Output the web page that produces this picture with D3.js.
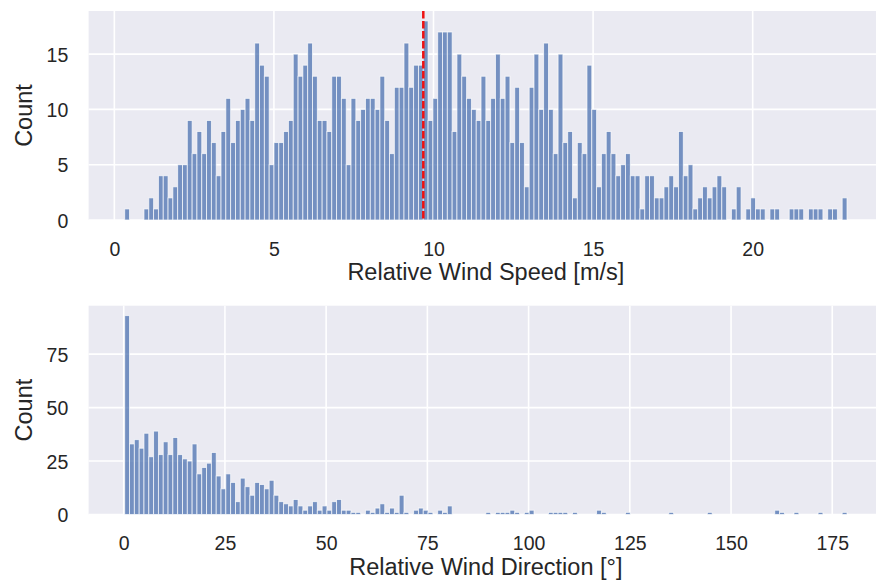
<!DOCTYPE html>
<html>
<head>
<meta charset="utf-8">
<script src="https://cdn.jsdelivr.net/npm/d3@7"></script>
<style>
  body { margin: 0; background: #fff; }
  svg { display: block; }
  .tick text { font-family: "Liberation Sans", Arial, sans-serif; font-size: 19.5px; fill: #262626; }
  .axis-label { font-family: "Liberation Sans", Arial, sans-serif; font-size: 23.5px; fill: #262626; }
</style>
</head>
<body>
<div id="chart"></div>
<script>
// Histogram counts (150 bins each)
const speedCounts = [
  1, 0, 0, 0, 1, 2, 1, 4, 4, 2, 3, 5, 5, 9, 6, 8, 6, 9, 7, 4,
  8, 11, 7, 9, 10, 11, 9, 16, 14, 13, 5, 7, 7, 8, 9, 15, 13, 14, 16, 13,
  9, 9, 8, 13, 13, 11, 5, 11, 9, 10, 11, 11, 10, 13, 9, 6, 12, 12, 16, 12,
  14, 14, 18, 9, 11, 17, 17, 17, 8, 15, 13, 11, 10, 9, 13, 9, 11, 15, 11, 13,
  7, 12, 7, 3, 12, 15, 10, 16, 10, 6, 15, 7, 8, 2, 7, 6, 14, 10, 3, 6,
  8, 6, 4, 5, 6, 4, 4, 1, 4, 4, 2, 2, 3, 4, 3, 8, 4, 5, 1, 2,
  3, 2, 3, 4, 3, 0, 1, 3, 0, 1, 2, 1, 1, 0, 1, 1, 0, 0, 1, 1,
  1, 0, 1, 1, 1, 0, 1, 1, 0, 2
];
const speedRange = [0.325, 22.954];
const speedMean = 9.68;

const directionCounts = [
  93, 33, 35, 31, 38, 27, 39, 28, 34, 28, 36, 28, 26, 25, 33, 19, 22, 24, 29, 18,
  12, 19, 15, 6, 17, 13, 9, 15, 14, 12, 16, 9, 6, 5, 4, 7, 4, 2, 4, 6,
  2, 4, 2, 6, 7, 2, 2, 1, 1, 0, 2, 1, 3, 5, 1, 3, 1, 9, 1, 0,
  2, 3, 2, 1, 0, 2, 1, 4, 0, 0, 0, 0, 0, 0, 0, 1, 0, 1, 1, 1,
  2, 1, 0, 1, 2, 0, 0, 0, 1, 1, 1, 1, 0, 1, 0, 0, 0, 0, 2, 1,
  0, 0, 0, 0, 1, 0, 0, 0, 0, 0, 0, 0, 0, 1, 0, 0, 0, 0, 0, 0,
  0, 1, 0, 0, 0, 0, 0, 0, 0, 0, 0, 0, 0, 0, 0, 2, 1, 0, 0, 1,
  0, 0, 0, 0, 1, 0, 0, 0, 0, 1
];
const directionRange = [0.247, 178.64];

const speedTicksX = [0, 5, 10, 15, 20];
const speedTicksY = [0, 5, 10, 15];
const directionTicksX = [0, 25, 50, 75, 100, 125, 150, 175];
const directionTicksY = [0, 25, 50, 75];

const W = 876, H = 588;
const svg = d3.select("#chart").append("svg")
    .attr("width", W)
    .attr("height", H);

// axes box in pixels (right edge runs past the figure, as in the original)
const axLeft = 88.6, axWidth = 794.5;

function drawHist(opts) {
    const {counts, range, top, bottom, ticksX, ticksY, xLabel, mean} = opts;
    const n = counts.length;
    const span = range[1] - range[0];
    const binW = span / n;

    const x = d3.scaleLinear()
        .domain([range[0] - 0.05 * span, range[1] + 0.05 * span])
        .range([axLeft, axLeft + axWidth]);
    const yMax = d3.max(counts) * 1.05;
    const y = d3.scaleLinear()
        .domain([0, yMax])
        .range([bottom, top]);

    const g = svg.append("g");

    // background
    g.append("rect")
        .attr("x", axLeft).attr("y", top)
        .attr("width", axWidth).attr("height", bottom - top)
        .attr("fill", "#EAEAF2");

    // grid
    g.selectAll(".gx").data(ticksX).enter().append("line")
        .attr("x1", d => x(d)).attr("x2", d => x(d))
        .attr("y1", top).attr("y2", bottom)
        .attr("stroke", "#fff").attr("stroke-width", 1.6);
    g.selectAll(".gy").data(ticksY).enter().append("line")
        .attr("x1", axLeft).attr("x2", axLeft + axWidth)
        .attr("y1", d => y(d)).attr("y2", d => y(d))
        .attr("stroke", "#fff").attr("stroke-width", 1.6);

    // bars
    const bins = counts.map((c, i) => ({x0: range[0] + i * binW, x1: range[0] + (i + 1) * binW, c}));
    g.selectAll(".bar").data(bins.filter(d => d.c > 0)).enter().append("rect")
        .attr("x", d => x(d.x0))
        .attr("width", d => x(d.x1) - x(d.x0))
        .attr("y", d => y(d.c))
        .attr("height", d => y(0) - y(d.c))
        .attr("fill", "#4C72B0")
        .attr("fill-opacity", 0.75)
        .attr("stroke", "#fff")
        .attr("stroke-opacity", 0.75)
        .attr("stroke-width", 0.9);

    if (mean !== undefined) {
        g.append("line")
            .attr("x1", x(mean)).attr("x2", x(mean))
            .attr("y1", top).attr("y2", bottom)
            .attr("stroke", "#ee1111")
            .attr("stroke-width", 2.5)
            .attr("stroke-dasharray", "7.4,2.6");
    }

    // axes
    const ax = g.append("g")
        .attr("transform", `translate(0,${bottom})`)
        .call(d3.axisBottom(x).tickValues(ticksX).tickSize(0).tickPadding(21.7));
    ax.select(".domain").remove();

    const ay = g.append("g")
        .attr("transform", `translate(${axLeft},0)`)
        .call(d3.axisLeft(y).tickValues(ticksY).tickSize(0).tickPadding(20.3));
    ay.select(".domain").remove();
    ay.selectAll("text").attr("dy", "0.36em");

    g.append("text")
        .attr("class", "axis-label")
        .attr("x", axLeft + axWidth / 2)
        .attr("y", bottom + 60)
        .attr("text-anchor", "middle")
        .text(xLabel);

    g.append("text")
        .attr("class", "axis-label")
        .attr("transform", `translate(31.6,${(top + bottom) / 2}) rotate(-90)`)
        .attr("text-anchor", "middle")
        .text("Count");
}

drawHist({
    counts: speedCounts, range: speedRange, top: 11, bottom: 220,
    ticksX: speedTicksX, ticksY: speedTicksY,
    xLabel: "Relative Wind Speed [m/s]", mean: speedMean
});

drawHist({
    counts: directionCounts, range: directionRange, top: 305.7, bottom: 514.5,
    ticksX: directionTicksX, ticksY: directionTicksY,
    xLabel: "Relative Wind Direction [°]"
});
</script>
</body>
</html>
